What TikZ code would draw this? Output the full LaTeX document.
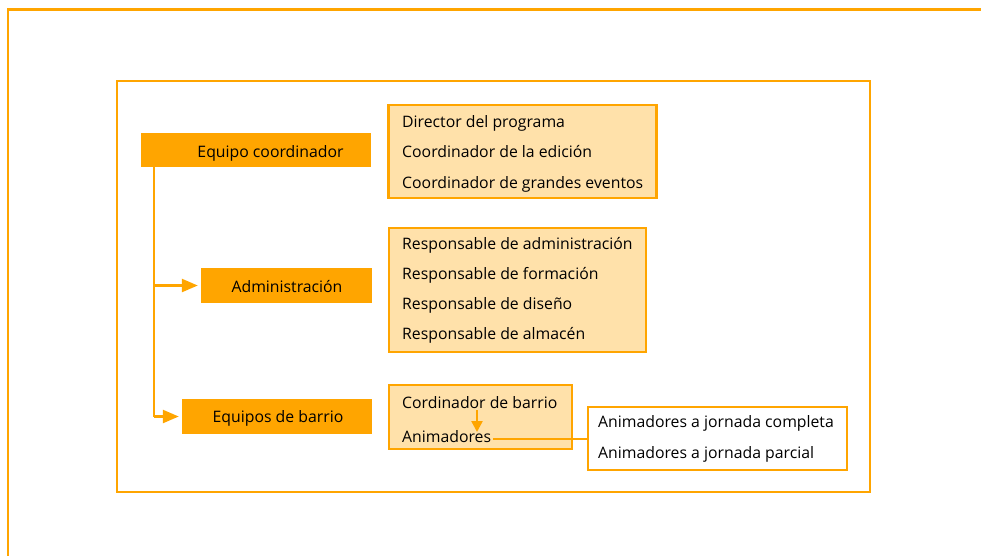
\documentclass[tikz,border=0pt]{standalone}
\usepackage{fontspec}
\setmainfont{Open Sans}
\usetikzlibrary{arrows.meta}
\definecolor{org}{HTML}{FFA500}
\definecolor{lorg}{HTML}{FFE1AA}
\begin{document}
\begin{tikzpicture}[x=1pt,y=-1pt,
  dark/.style={fill=org, draw=none, inner sep=0pt},
  lightbox/.style={fill=lorg, draw=org, line width=2.6pt, inner sep=0pt},
  whitebox/.style={fill=white, draw=org, line width=2.6pt, inner sep=0pt},
  frame/.style={draw=org, line width=2.4pt},
  txt/.style={anchor=base west, inner sep=0pt, font=\fontsize{15.8}{18}\selectfont},
  ctxt/.style={anchor=base, inner sep=0pt, font=\fontsize{15.8}{18}\selectfont},
  conn/.style={draw=org, line width=2.6pt},
  arr/.style={draw=org, line width=2.4pt, -{Triangle[length=16pt,width=13pt]}},
  smallarr/.style={draw=org, line width=2.4pt, -{Triangle[length=11pt,width=11pt]}}
]
\useasboundingbox (0,0) rectangle (981,555);
% outer frame (only top and left visible)
\draw[draw=org, line width=2.8pt] (8,560) -- (8,9.5) -- (990,9.5);
% inner frame
\draw[frame] (117,81) rectangle (870,492);

% left column boxes
\node[dark, minimum width=230pt, minimum height=34pt] (ec) at (256,150) {};
\node[ctxt] (ect) at (270.5,157) {Equipo coordinador};
\node[dark, minimum width=171pt, minimum height=35pt] (ad) at (286.5,285.5) {};
\node[ctxt] (adt) at (287,292) {Administración};
\node[dark, minimum width=190pt, minimum height=35pt] (eb) at (277,416.5) {};
\node[ctxt] (ebt) at (278,422) {Equipos de barrio};

% right column boxes
\node[lightbox, minimum width=268pt, minimum height=93pt] (b1) at (522.5,151.5) {};
\node[txt] (b1a) at (402,127) {Director del programa};
\node[txt] (b1b) at (402,157.5) {Coordinador de la edición};
\node[txt] (b1c) at (402,188) {Coordinador de grandes eventos};

\node[lightbox, minimum width=257pt, minimum height=124pt] (b2) at (517.5,290) {};
\node[txt] (b2a) at (402,249.5) {Responsable de administración};
\node[txt] (b2b) at (402,279.5) {Responsable de formación};
\node[txt] (b2c) at (402,309.5) {Responsable de diseño};
\node[txt] (b2d) at (402,339.5) {Responsable de almacén};

\node[lightbox, minimum width=183pt, minimum height=64pt] (b3) at (480.5,417) {};
\node[txt] (b3a) at (402,408.5) {Cordinador de barrio};
\node[txt] (b3b) at (402,442.5) {Animadores};

\node[whitebox, minimum width=259pt, minimum height=63pt] (b4) at (717.5,438.5) {};
\node[txt] (b4a) at (598,427.5) {Animadores a jornada completa};
\node[txt] (b4b) at (598,458.5) {Animadores a jornada parcial};

% connectors
\coordinate (trunk) at ([xshift=13pt]ec.south west);
\draw[conn] (trunk) -- (trunk |- eb.west);
\draw[arr] (trunk |- ad.west) -- ([xshift=-3pt]ad.west);
\draw[arr] (trunk |- eb.west) -- ([xshift=-3pt]eb.west);
\coordinate (arrtop) at (477,410);
\draw[smallarr] (arrtop) -- (477,432);
\draw[conn] ([xshift=2pt]b3b.east |- 0,439) -- (b4.west |- 0,439);
\end{tikzpicture}
\end{document}
